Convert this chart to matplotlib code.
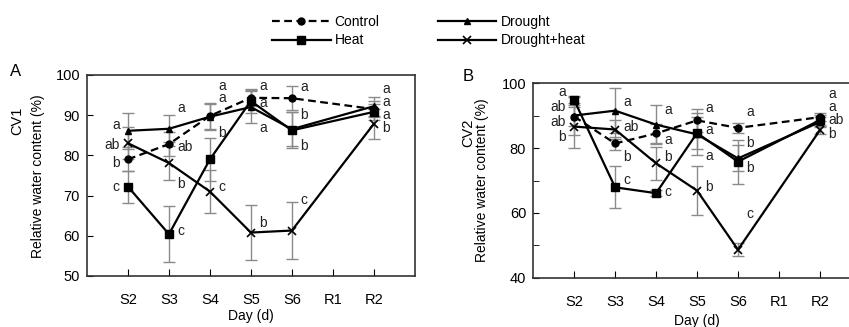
import numpy as np
import matplotlib
matplotlib.use('Agg')
import matplotlib.pyplot as plt

plt.rcParams['font.family'] = ['Liberation Sans', 'DejaVu Sans']

# Data
days = ['S2', 'S3', 'S4', 'S5', 'S6', 'R1', 'R2']
series = ['Control', 'Heat', 'Drought', 'Drought+heat']

# CV1 (panel A)
cv1_control = [79.0, 82.8, 89.8, 94.3, 94.2, np.nan, 91.5]
cv1_drought = [86.1, 86.6, 89.6, 92.0, 86.5, np.nan, 92.2]
cv1_heat = [72.2, 60.4, 79.0, 93.5, 86.2, np.nan, 90.8]
cv1_dh = [83.0, 78.1, 71.0, 60.8, 61.3, np.nan, 87.8]
cv1_control_err = [3.0, 3.0, 3.2, 2.0, 3.0, np.nan, 2.0]
cv1_drought_err = [4.5, 3.4, 3.2, 4.0, 4.2, np.nan, 2.3]
cv1_heat_err = [4.0, 6.9, 5.3, 3.0, 4.5, np.nan, 2.0]
cv1_dh_err = [4.0, 4.3, 5.4, 6.9, 7.0, np.nan, 3.7]

# CV2 (panel B)
cv2_control = [89.7, 81.4, 84.5, 88.5, 86.2, np.nan, 89.5]
cv2_drought = [90.0, 91.5, 87.2, 84.2, 76.8, np.nan, 88.0]
cv2_heat = [94.8, 67.9, 66.1, 84.6, 75.8, np.nan, 88.6]
cv2_dh = [86.6, 85.7, 75.3, 66.9, 48.7, np.nan, 85.5]
cv2_control_err = [3.0, 2.0, 3.0, 3.5, 1.5, np.nan, 1.2]
cv2_drought_err = [6.0, 7.0, 6.0, 6.5, 4.0, np.nan, 1.5]
cv2_heat_err = [1.0, 6.5, 1.0, 5.0, 6.8, np.nan, 1.5]
cv2_dh_err = [6.5, 3.0, 5.0, 7.5, 2.0, np.nan, 1.2]

# significance letters per day and where they sit
cv1_letters = [['a', 'ab', 'b', 'c'], ['a', 'ab', 'b', 'c'], ['a', 'a', 'b', 'c'],
               ['a', 'a', 'a', 'b'], ['a', 'b', 'b', 'c'], [], ['a', 'a', 'a', 'b']]
cv1_letter_y = [[87.6, 82.6, 78.2, 72.1], [91.7, 82.0, 72.9, 61.1], [97.3, 94.3, 85.6, 72.2],
                [97.3, 92.9, 86.7, 63.1], [97.1, 90.0, 82.3, 68.9], [], [96.6, 93.3, 90.0, 86.8]]
cv2_letters = [['a', 'ab', 'ab', 'b'], ['a', 'ab', 'b', 'c'], ['a', 'a', 'b', 'c'],
               ['a', 'a', 'a', 'b'], ['a', 'b', 'b', 'c'], [], ['a', 'a', 'ab', 'b']]
cv2_letter_y = [[97.3, 92.7, 88.1, 83.3], [94.2, 86.6, 77.1, 70.2], [91.7, 82.5, 77.3, 66.6],
                [92.2, 85.5, 77.5, 67.9], [91.2, 81.4, 73.8, 59.7], [], [96.5, 92.5, 88.6, 84.3]]

styles = {
    'Control': dict(ls=(0, (3.5, 2)), marker='o', ms=5),
    'Heat': dict(ls='-', marker='s', ms=5.5),
    'Drought': dict(ls='-', marker='^', ms=5),
    'Drought+heat': dict(ls='-', marker='x', ms=6, mew=1.2),
}

x = np.arange(1, len(days) + 1)

fig = plt.figure(figsize=(8.49, 3.27), dpi=100)
axA = fig.add_axes([0.1025, 0.156, 0.386, 0.615])
axB = fig.add_axes([0.628, 0.150, 0.386, 0.596])


def draw(ax, vals, errs, letters, letter_y, ylim, yticks, minor):
    handles = []
    for name in series:
        y = np.array(vals[name], dtype=float)
        e = np.array(errs[name], dtype=float)
        m = ~np.isnan(y)
        ax.errorbar(x[m], y[m], yerr=e[m], fmt='none', ecolor='#8a8a8a',
                    elinewidth=1.0, capsize=4, capthick=1.0, zorder=1)
        h, = ax.plot(x[m], y[m], color='black', lw=1.6, mfc='black', mec='black',
                     zorder=3, label=name, **styles[name])
        handles.append(h)
    for i, (labs, ys) in enumerate(zip(letters, letter_y)):
        for lab, ly in zip(labs, ys):
            if i == 0:
                ax.text(x[i] - 0.2, ly, lab, ha='right', va='center', fontsize=10, color='#222222')
            else:
                ax.text(x[i] + 0.2, ly, lab, ha='left', va='center', fontsize=10, color='#222222')
    ax.set_xlim(0, 8)
    ax.set_ylim(*ylim)
    ax.set_xticks(x)
    ax.set_xticklabels(days, fontsize=10.5)
    ax.set_yticks(yticks)
    ax.set_yticklabels([str(t) for t in yticks], fontsize=10.5)
    if minor:
        ax.set_yticks(minor, minor=True)
    ax.tick_params(axis='x', direction='in', length=5, pad=12)
    ax.tick_params(axis='y', direction='in', length=4, pad=5)
    ax.tick_params(axis='y', which='minor', direction='in', length=4)
    for s in ax.spines.values():
        s.set_linewidth(1.2)
        s.set_color('#333333')
    return handles


handles = draw(axA,
               {'Control': cv1_control, 'Heat': cv1_heat, 'Drought': cv1_drought, 'Drought+heat': cv1_dh},
               {'Control': cv1_control_err, 'Heat': cv1_heat_err, 'Drought': cv1_drought_err,
                'Drought+heat': cv1_dh_err},
               cv1_letters, cv1_letter_y, (50, 100), [50, 60, 70, 80, 90, 100], None)
draw(axB,
     {'Control': cv2_control, 'Heat': cv2_heat, 'Drought': cv2_drought, 'Drought+heat': cv2_dh},
     {'Control': cv2_control_err, 'Heat': cv2_heat_err, 'Drought': cv2_drought_err,
      'Drought+heat': cv2_dh_err},
     cv2_letters, cv2_letter_y, (40, 100), [40, 60, 80, 100], [50, 70, 90])

# axis labels
axA.set_xlabel('Day (d)', fontsize=10, labelpad=2)
axB.set_xlabel('Day (d)', fontsize=10, labelpad=4)
fig.text(0.020, 0.63, 'CV1', rotation=90, ha='center', va='center', fontsize=10.5)
fig.text(0.045, 0.46, 'Relative water content (%)', rotation=90, ha='center', va='center', fontsize=10)
fig.text(0.551, 0.595, 'CV2', rotation=90, ha='center', va='center', fontsize=10.5)
fig.text(0.568, 0.45, 'Relative water content (%)', rotation=90, ha='center', va='center', fontsize=10)
fig.text(0.012, 0.78, 'A', fontsize=12, ha='left', va='center')
fig.text(0.545, 0.765, 'B', fontsize=12, ha='left', va='center')

fig.legend(handles, series, loc='upper center', bbox_to_anchor=(0.505, 0.985), ncol=2,
           frameon=False, fontsize=10, handlelength=4.2, handletextpad=0.3,
           columnspacing=4.2, labelspacing=0.35, borderpad=0.2)

fig.savefig('out.png', dpi=100)
